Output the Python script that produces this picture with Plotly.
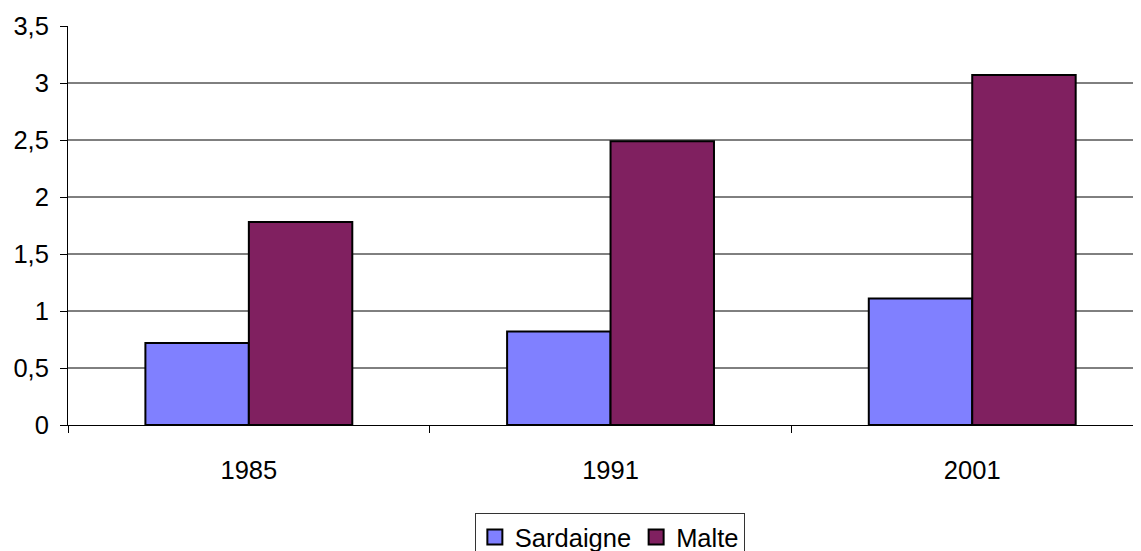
import plotly.graph_objects as go

years = ["1985", "1991", "2001"]
sardaigne = [0.72, 0.82, 1.11]
malte = [1.78, 2.49, 3.07]
y_ticks = [0, 0.5, 1, 1.5, 2, 2.5, 3, 3.5]
y_labels = ["0", "0,5", "1", "1,5", "2", "2,5", "3", "3,5"]
series_names = ["Sardaigne", "Malte"]
series_colors = ["#8080FF", "#802060"]

FONT = "Liberation Sans, Arial, sans-serif"

fig = go.Figure()
for name, vals, col in zip(series_names, [sardaigne, malte], series_colors):
    fig.add_trace(go.Bar(x=years, y=vals, name=name, showlegend=False, legendgroup=name,
                         marker=dict(color=col, line=dict(color="black", width=2))))
# legend proxies with larger square symbols
for name, col in zip(series_names, series_colors):
    fig.add_trace(go.Scatter(x=[None], y=[None], mode="markers", name=name, legendgroup=name,
                             marker=dict(symbol="square", size=15, color=col,
                                         line=dict(color="black", width=2))))

# horizontal gridlines (not at the top of the axis)
for v in y_ticks[1:-1]:
    fig.add_shape(type="line", xref="paper", x0=0, x1=1, yref="y", y0=v, y1=v,
                  line=dict(color="black", width=1), layer="below")

fig.update_layout(
    width=1141, height=551,
    margin=dict(l=60, r=8, t=18, b=134, autoexpand=False),
    paper_bgcolor="white", plot_bgcolor="white",
    font=dict(family=FONT, size=25.5, color="black"),
    barmode="group", bargap=0.428, bargroupgap=0,
    showlegend=True,
    legend=dict(orientation="h", x=0.505, xanchor="center", y=-0.2206, yanchor="top",
                bordercolor="#333333", borderwidth=1, bgcolor="white",
                font=dict(family=FONT, size=25.5, color="black"),
                itemwidth=30, tracegroupgap=0),
    xaxis=dict(type="category", range=[-0.5, 2.4666], showgrid=False, automargin=False,
               showline=True, linecolor="black", linewidth=1,
               ticks="outside", tickson="boundaries", ticklen=7, tickcolor="black",
               ticklabelstandoff=22, zeroline=False),
    yaxis=dict(range=[0, 3.5], tickvals=y_ticks, ticktext=y_labels, showgrid=False,
               automargin=False,
               showline=True, linecolor="black", linewidth=1,
               ticks="outside", ticklen=7, tickcolor="black",
               ticklabelstandoff=6, zeroline=False),
)

fig.write_html("out.html")
